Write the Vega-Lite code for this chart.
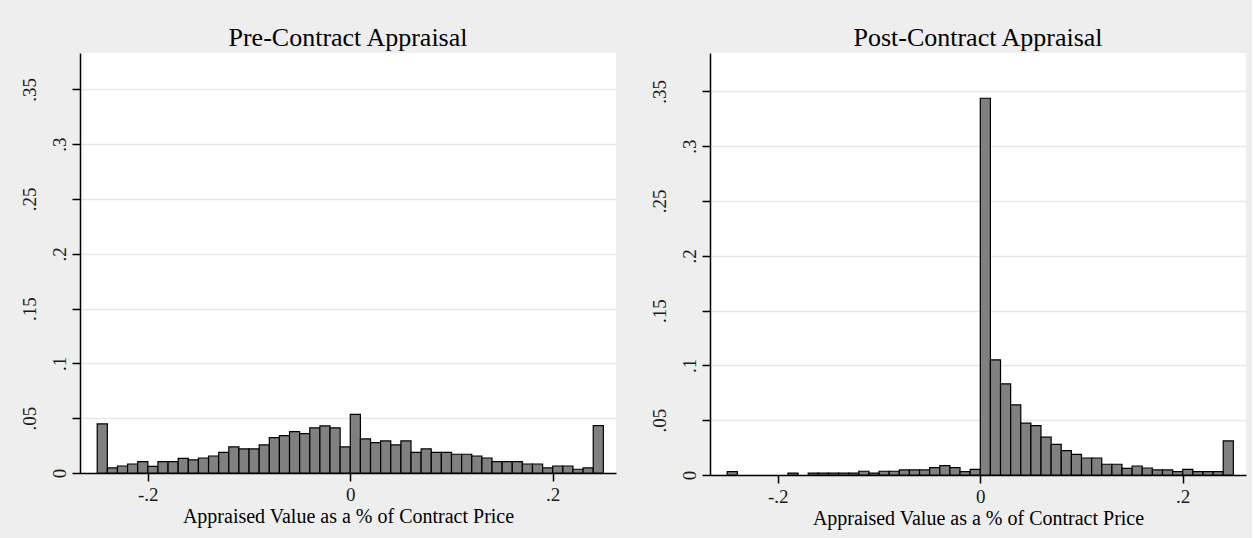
{
  "$schema": "https://vega.github.io/schema/vega-lite/v6.json",
  "background": "#eeeeee",
  "padding": {"left": 20, "top": 25, "right": 6, "bottom": 11},
  "spacing": 34,
  "datasets": {
    "pre": [
      {"lo": -0.25, "hi": -0.24, "f": 0.0448},
      {"lo": -0.24, "hi": -0.23, "f": 0.0046},
      {"lo": -0.23, "hi": -0.22, "f": 0.0064},
      {"lo": -0.22, "hi": -0.21, "f": 0.0082},
      {"lo": -0.21, "hi": -0.20, "f": 0.0104},
      {"lo": -0.20, "hi": -0.19, "f": 0.0061},
      {"lo": -0.19, "hi": -0.18, "f": 0.0104},
      {"lo": -0.18, "hi": -0.17, "f": 0.0104},
      {"lo": -0.17, "hi": -0.16, "f": 0.0134},
      {"lo": -0.16, "hi": -0.15, "f": 0.0119},
      {"lo": -0.15, "hi": -0.14, "f": 0.0137},
      {"lo": -0.14, "hi": -0.13, "f": 0.0155},
      {"lo": -0.13, "hi": -0.12, "f": 0.0189},
      {"lo": -0.12, "hi": -0.11, "f": 0.0238},
      {"lo": -0.11, "hi": -0.10, "f": 0.0220},
      {"lo": -0.10, "hi": -0.09, "f": 0.0220},
      {"lo": -0.09, "hi": -0.08, "f": 0.0256},
      {"lo": -0.08, "hi": -0.07, "f": 0.0323},
      {"lo": -0.07, "hi": -0.06, "f": 0.0341},
      {"lo": -0.06, "hi": -0.05, "f": 0.0378},
      {"lo": -0.05, "hi": -0.04, "f": 0.0360},
      {"lo": -0.04, "hi": -0.03, "f": 0.0412},
      {"lo": -0.03, "hi": -0.02, "f": 0.0430},
      {"lo": -0.02, "hi": -0.01, "f": 0.0412},
      {"lo": -0.01, "hi": 0.00, "f": 0.0238},
      {"lo": 0.00, "hi": 0.01, "f": 0.0534},
      {"lo": 0.01, "hi": 0.02, "f": 0.0311},
      {"lo": 0.02, "hi": 0.03, "f": 0.0277},
      {"lo": 0.03, "hi": 0.04, "f": 0.0293},
      {"lo": 0.04, "hi": 0.05, "f": 0.0256},
      {"lo": 0.05, "hi": 0.06, "f": 0.0293},
      {"lo": 0.06, "hi": 0.07, "f": 0.0189},
      {"lo": 0.07, "hi": 0.08, "f": 0.0220},
      {"lo": 0.08, "hi": 0.09, "f": 0.0189},
      {"lo": 0.09, "hi": 0.10, "f": 0.0189},
      {"lo": 0.10, "hi": 0.11, "f": 0.0171},
      {"lo": 0.11, "hi": 0.12, "f": 0.0171},
      {"lo": 0.12, "hi": 0.13, "f": 0.0155},
      {"lo": 0.13, "hi": 0.14, "f": 0.0137},
      {"lo": 0.14, "hi": 0.15, "f": 0.0104},
      {"lo": 0.15, "hi": 0.16, "f": 0.0104},
      {"lo": 0.16, "hi": 0.17, "f": 0.0104},
      {"lo": 0.17, "hi": 0.18, "f": 0.0082},
      {"lo": 0.18, "hi": 0.19, "f": 0.0082},
      {"lo": 0.19, "hi": 0.20, "f": 0.0046},
      {"lo": 0.20, "hi": 0.21, "f": 0.0064},
      {"lo": 0.21, "hi": 0.22, "f": 0.0064},
      {"lo": 0.22, "hi": 0.23, "f": 0.0034},
      {"lo": 0.23, "hi": 0.24, "f": 0.0046},
      {"lo": 0.24, "hi": 0.25, "f": 0.0433}
    ],
    "post": [
      {"lo": -0.25, "hi": -0.24, "f": 0.0030},
      {"lo": -0.19, "hi": -0.18, "f": 0.0018},
      {"lo": -0.17, "hi": -0.16, "f": 0.0018},
      {"lo": -0.16, "hi": -0.15, "f": 0.0018},
      {"lo": -0.15, "hi": -0.14, "f": 0.0018},
      {"lo": -0.14, "hi": -0.13, "f": 0.0018},
      {"lo": -0.13, "hi": -0.12, "f": 0.0018},
      {"lo": -0.12, "hi": -0.11, "f": 0.0034},
      {"lo": -0.11, "hi": -0.10, "f": 0.0018},
      {"lo": -0.10, "hi": -0.09, "f": 0.0034},
      {"lo": -0.09, "hi": -0.08, "f": 0.0034},
      {"lo": -0.08, "hi": -0.07, "f": 0.0046},
      {"lo": -0.07, "hi": -0.06, "f": 0.0046},
      {"lo": -0.06, "hi": -0.05, "f": 0.0046},
      {"lo": -0.05, "hi": -0.04, "f": 0.0067},
      {"lo": -0.04, "hi": -0.03, "f": 0.0085},
      {"lo": -0.03, "hi": -0.02, "f": 0.0067},
      {"lo": -0.02, "hi": -0.01, "f": 0.0030},
      {"lo": -0.01, "hi": 0.00, "f": 0.0052},
      {"lo": 0.00, "hi": 0.01, "f": 0.3437},
      {"lo": 0.01, "hi": 0.02, "f": 0.1051},
      {"lo": 0.02, "hi": 0.03, "f": 0.0832},
      {"lo": 0.03, "hi": 0.04, "f": 0.0640},
      {"lo": 0.04, "hi": 0.05, "f": 0.0473},
      {"lo": 0.05, "hi": 0.06, "f": 0.0451},
      {"lo": 0.06, "hi": 0.07, "f": 0.0345},
      {"lo": 0.07, "hi": 0.08, "f": 0.0280},
      {"lo": 0.08, "hi": 0.09, "f": 0.0223},
      {"lo": 0.09, "hi": 0.10, "f": 0.0189},
      {"lo": 0.10, "hi": 0.11, "f": 0.0155},
      {"lo": 0.11, "hi": 0.12, "f": 0.0155},
      {"lo": 0.12, "hi": 0.13, "f": 0.0098},
      {"lo": 0.13, "hi": 0.14, "f": 0.0098},
      {"lo": 0.14, "hi": 0.15, "f": 0.0061},
      {"lo": 0.15, "hi": 0.16, "f": 0.0082},
      {"lo": 0.16, "hi": 0.17, "f": 0.0064},
      {"lo": 0.17, "hi": 0.18, "f": 0.0046},
      {"lo": 0.18, "hi": 0.19, "f": 0.0046},
      {"lo": 0.19, "hi": 0.20, "f": 0.0030},
      {"lo": 0.20, "hi": 0.21, "f": 0.0052},
      {"lo": 0.21, "hi": 0.22, "f": 0.0030},
      {"lo": 0.22, "hi": 0.23, "f": 0.0030},
      {"lo": 0.23, "hi": 0.24, "f": 0.0030},
      {"lo": 0.24, "hi": 0.25, "f": 0.0311}
    ]
  },
  "hconcat": [
    {
      "width": 536,
      "height": 420,
      "title": {"text": "Pre-Contract Appraisal"},
      "data": {"name": "pre"},
      "mark": {"type": "bar", "fill": "#808080", "stroke": "#000000", "strokeWidth": 1.2},
      "encoding": {
        "x": {
          "field": "lo", "type": "quantitative",
          "scale": {"domain": [-0.267, 0.2625], "nice": false, "zero": false},
          "axis": {"values": [-0.2, 0, 0.2], "labelExpr": "replace(toString(datum.value),'0.','.')", "grid": false, "title": "Appraised Value as a % of Contract Price", "labelPadding": 4, "titlePadding": 2, "labelFlush": false}
        },
        "x2": {"field": "hi"},
        "y": {
          "field": "f", "type": "quantitative",
          "scale": {"domain": [0, 0.3832], "nice": false},
          "axis": {"orient": "left", "values": [0, 0.05, 0.1, 0.15, 0.2, 0.25, 0.3, 0.35], "labelExpr": "replace(toString(datum.value),'0.','.')", "labelAngle": -90, "labelAlign": "center", "labelBaseline": "alphabetic",
            "labelPadding": {"condition": {"test": "round(datum.value*100)%10==5", "value": 37}, "value": 7},
            "labelOverlap": false, "labelFlush": false, "grid": true, "gridColor": "#e6e6e6", "gridWidth": 1.5, "title": null}
        },
        "y2": {"datum": 0}
      }
    },
    {
      "width": 536,
      "height": 422,
      "title": {"text": "Post-Contract Appraisal"},
      "data": {"name": "post"},
      "mark": {"type": "bar", "fill": "#808080", "stroke": "#000000", "strokeWidth": 1.2},
      "encoding": {
        "x": {
          "field": "lo", "type": "quantitative",
          "scale": {"domain": [-0.267, 0.2625], "nice": false, "zero": false},
          "axis": {"values": [-0.2, 0, 0.2], "labelExpr": "replace(toString(datum.value),'0.','.')", "grid": false, "title": "Appraised Value as a % of Contract Price", "labelPadding": 4, "titlePadding": 2, "labelFlush": false}
        },
        "x2": {"field": "hi"},
        "y": {
          "field": "f", "type": "quantitative",
          "scale": {"domain": [0, 0.385], "nice": false},
          "axis": {"orient": "left", "values": [0, 0.05, 0.1, 0.15, 0.2, 0.25, 0.3, 0.35], "labelExpr": "replace(toString(datum.value),'0.','.')", "labelAngle": -90, "labelAlign": "center", "labelBaseline": "alphabetic",
            "labelPadding": {"condition": {"test": "round(datum.value*100)%10==5", "value": 37}, "value": 7},
            "labelOverlap": false, "labelFlush": false, "grid": true, "gridColor": "#e6e6e6", "gridWidth": 1.5, "title": null}
        },
        "y2": {"datum": 0}
      }
    }
  ],
  "config": {
    "font": "Liberation Serif",
    "view": {"fill": "#ffffff", "stroke": null},
    "axis": {
      "domainColor": "#000000", "domainWidth": 1.5, "tickColor": "#000000", "tickWidth": 1.5, "tickSize": 8,
      "labelFont": "Liberation Serif", "labelFontSize": 19, "labelColor": "#1a1a1a",
      "titleFont": "Liberation Serif", "titleFontSize": 20, "titleFontWeight": "normal", "titleColor": "#000000"
    },
    "title": {"font": "Liberation Serif", "fontSize": 26, "fontWeight": "normal", "color": "#000000", "anchor": "middle", "frame": "group", "baseline": "alphabetic", "offset": 2}
  }
}
